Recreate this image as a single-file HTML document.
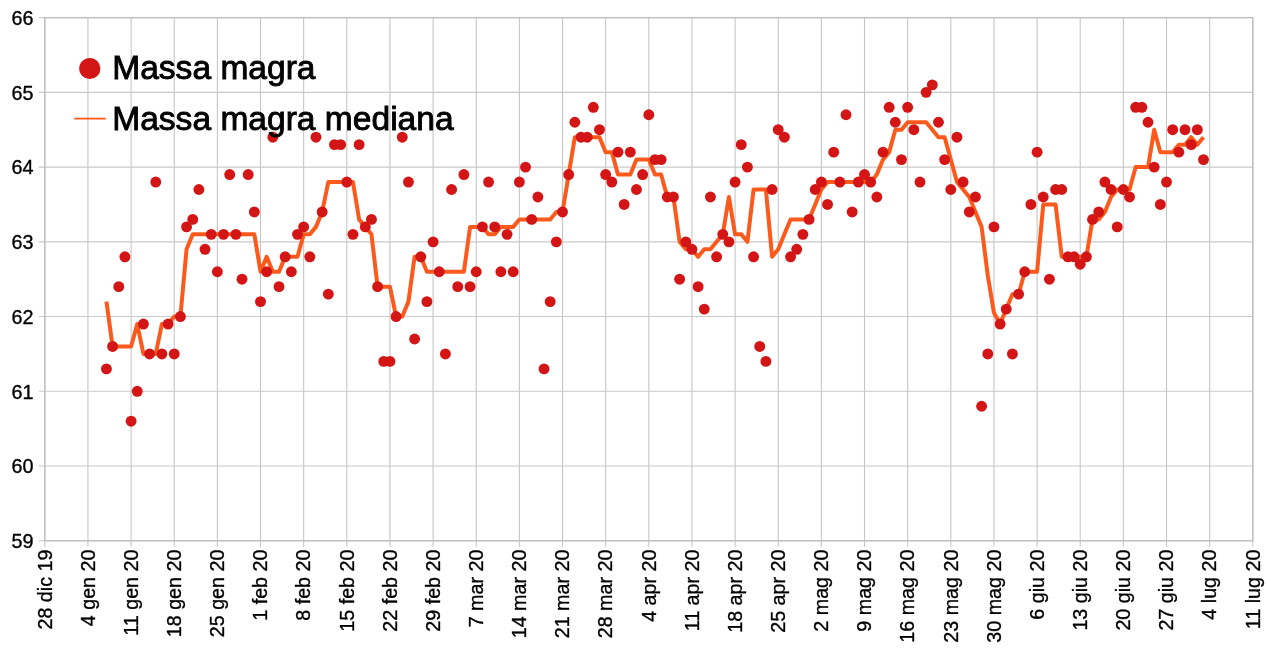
<!DOCTYPE html>
<html lang="it"><head><meta charset="utf-8"><title>Massa magra</title>
<style>html,body{margin:0;padding:0;background:#fff}svg{display:block}text{font-family:"Liberation Sans",Arial,Helvetica,sans-serif;fill:#000}</style></head><body>
<svg width="1269" height="655" viewBox="0 0 1269 655">
<rect width="1269" height="655" fill="#fff"/>
<path d="M44.80 17.60V546.80M87.94 17.60V546.80M131.09 17.60V546.80M174.23 17.60V546.80M217.37 17.60V546.80M260.51 17.60V546.80M303.66 17.60V546.80M346.80 17.60V546.80M389.94 17.60V546.80M433.09 17.60V546.80M476.23 17.60V546.80M519.37 17.60V546.80M562.51 17.60V546.80M605.66 17.60V546.80M648.80 17.60V546.80M691.94 17.60V546.80M735.09 17.60V546.80M778.23 17.60V546.80M821.37 17.60V546.80M864.51 17.60V546.80M907.66 17.60V546.80M950.80 17.60V546.80M993.94 17.60V546.80M1037.09 17.60V546.80M1080.23 17.60V546.80M1123.37 17.60V546.80M1166.51 17.60V546.80M1209.66 17.60V546.80M1252.80 17.60V546.80" fill="none" stroke="#c4c4c4" stroke-width="1.05"/>
<path d="M38.80 540.80H1252.80M38.80 466.06H1252.80M38.80 391.31H1252.80M38.80 316.57H1252.80M38.80 241.83H1252.80M38.80 167.09H1252.80M38.80 92.34H1252.80M38.80 17.60H1252.80" fill="none" stroke="#cacaca" stroke-width="1.1"/>
<rect x="44.80" y="17.60" width="1208.00" height="523.20" fill="none" stroke="#bebebe" stroke-width="1.3"/>
<text x="33.5" y="548.00" font-size="19.8" text-anchor="end" stroke="#000" stroke-width="0.35">59</text>
<text x="33.5" y="473.26" font-size="19.8" text-anchor="end" stroke="#000" stroke-width="0.35">60</text>
<text x="33.5" y="398.51" font-size="19.8" text-anchor="end" stroke="#000" stroke-width="0.35">61</text>
<text x="33.5" y="323.77" font-size="19.8" text-anchor="end" stroke="#000" stroke-width="0.35">62</text>
<text x="33.5" y="249.03" font-size="19.8" text-anchor="end" stroke="#000" stroke-width="0.35">63</text>
<text x="33.5" y="174.29" font-size="19.8" text-anchor="end" stroke="#000" stroke-width="0.35">64</text>
<text x="33.5" y="99.54" font-size="19.8" text-anchor="end" stroke="#000" stroke-width="0.35">65</text>
<text x="33.5" y="24.80" font-size="19.8" text-anchor="end" stroke="#000" stroke-width="0.35">66</text>
<text transform="translate(51.50 549.6) rotate(-90)" font-size="19.7" text-anchor="end" stroke="#000" stroke-width="0.35">28 dic 19</text>
<text transform="translate(94.64 549.6) rotate(-90)" font-size="19.7" text-anchor="end" stroke="#000" stroke-width="0.35">4 gen 20</text>
<text transform="translate(137.79 549.6) rotate(-90)" font-size="19.7" text-anchor="end" stroke="#000" stroke-width="0.35">11 gen 20</text>
<text transform="translate(180.93 549.6) rotate(-90)" font-size="19.7" text-anchor="end" stroke="#000" stroke-width="0.35">18 gen 20</text>
<text transform="translate(224.07 549.6) rotate(-90)" font-size="19.7" text-anchor="end" stroke="#000" stroke-width="0.35">25 gen 20</text>
<text transform="translate(267.21 549.6) rotate(-90)" font-size="19.7" text-anchor="end" stroke="#000" stroke-width="0.35">1 feb 20</text>
<text transform="translate(310.36 549.6) rotate(-90)" font-size="19.7" text-anchor="end" stroke="#000" stroke-width="0.35">8 feb 20</text>
<text transform="translate(353.50 549.6) rotate(-90)" font-size="19.7" text-anchor="end" stroke="#000" stroke-width="0.35">15 feb 20</text>
<text transform="translate(396.64 549.6) rotate(-90)" font-size="19.7" text-anchor="end" stroke="#000" stroke-width="0.35">22 feb 20</text>
<text transform="translate(439.79 549.6) rotate(-90)" font-size="19.7" text-anchor="end" stroke="#000" stroke-width="0.35">29 feb 20</text>
<text transform="translate(482.93 549.6) rotate(-90)" font-size="19.7" text-anchor="end" stroke="#000" stroke-width="0.35">7 mar 20</text>
<text transform="translate(526.07 549.6) rotate(-90)" font-size="19.7" text-anchor="end" stroke="#000" stroke-width="0.35">14 mar 20</text>
<text transform="translate(569.21 549.6) rotate(-90)" font-size="19.7" text-anchor="end" stroke="#000" stroke-width="0.35">21 mar 20</text>
<text transform="translate(612.36 549.6) rotate(-90)" font-size="19.7" text-anchor="end" stroke="#000" stroke-width="0.35">28 mar 20</text>
<text transform="translate(655.50 549.6) rotate(-90)" font-size="19.7" text-anchor="end" stroke="#000" stroke-width="0.35">4 apr 20</text>
<text transform="translate(698.64 549.6) rotate(-90)" font-size="19.7" text-anchor="end" stroke="#000" stroke-width="0.35">11 apr 20</text>
<text transform="translate(741.79 549.6) rotate(-90)" font-size="19.7" text-anchor="end" stroke="#000" stroke-width="0.35">18 apr 20</text>
<text transform="translate(784.93 549.6) rotate(-90)" font-size="19.7" text-anchor="end" stroke="#000" stroke-width="0.35">25 apr 20</text>
<text transform="translate(828.07 549.6) rotate(-90)" font-size="19.7" text-anchor="end" stroke="#000" stroke-width="0.35">2 mag 20</text>
<text transform="translate(871.21 549.6) rotate(-90)" font-size="19.7" text-anchor="end" stroke="#000" stroke-width="0.35">9 mag 20</text>
<text transform="translate(914.36 549.6) rotate(-90)" font-size="19.7" text-anchor="end" stroke="#000" stroke-width="0.35">16 mag 20</text>
<text transform="translate(957.50 549.6) rotate(-90)" font-size="19.7" text-anchor="end" stroke="#000" stroke-width="0.35">23 mag 20</text>
<text transform="translate(1000.64 549.6) rotate(-90)" font-size="19.7" text-anchor="end" stroke="#000" stroke-width="0.35">30 mag 20</text>
<text transform="translate(1043.79 549.6) rotate(-90)" font-size="19.7" text-anchor="end" stroke="#000" stroke-width="0.35">6 giu 20</text>
<text transform="translate(1086.93 549.6) rotate(-90)" font-size="19.7" text-anchor="end" stroke="#000" stroke-width="0.35">13 giu 20</text>
<text transform="translate(1130.07 549.6) rotate(-90)" font-size="19.7" text-anchor="end" stroke="#000" stroke-width="0.35">20 giu 20</text>
<text transform="translate(1173.21 549.6) rotate(-90)" font-size="19.7" text-anchor="end" stroke="#000" stroke-width="0.35">27 giu 20</text>
<text transform="translate(1216.36 549.6) rotate(-90)" font-size="19.7" text-anchor="end" stroke="#000" stroke-width="0.35">4 lug 20</text>
<text transform="translate(1259.50 549.6) rotate(-90)" font-size="19.7" text-anchor="end" stroke="#000" stroke-width="0.35">11 lug 20</text>
<polyline points="106.43,301.62 112.60,346.47 118.76,346.47 124.92,346.47 131.09,346.47 137.25,324.05 143.41,353.94 149.58,353.94 155.74,353.94 161.90,324.05 168.07,324.05 174.23,316.57 180.39,316.57 186.56,249.30 192.72,234.35 198.88,234.35 205.04,234.35 211.21,234.35 217.37,234.35 223.53,234.35 229.70,234.35 235.86,234.35 242.02,234.35 248.19,234.35 254.35,234.35 260.51,271.73 266.68,256.78 272.84,271.73 279.00,271.73 285.17,256.78 291.33,256.78 297.49,256.78 303.66,234.35 309.82,234.35 315.98,226.88 322.15,211.93 328.31,182.03 334.47,182.03 340.64,182.03 346.80,182.03 352.96,182.03 359.13,219.41 365.29,226.88 371.45,234.35 377.62,286.67 383.78,286.67 389.94,286.67 396.11,316.57 402.27,316.57 408.43,301.62 414.60,256.78 420.76,256.78 426.92,271.73 433.09,271.73 439.25,271.73 445.41,271.73 451.58,271.73 457.74,271.73 463.90,271.73 470.07,226.88 476.23,226.88 482.39,226.88 488.56,234.35 494.72,234.35 500.88,226.88 507.04,226.88 513.21,226.88 519.37,219.41 525.53,219.41 531.70,219.41 537.86,219.41 544.02,219.41 550.19,219.41 556.35,211.93 562.51,211.93 568.68,174.56 574.84,137.19 581.00,137.19 587.17,137.19 593.33,137.19 599.49,137.19 605.66,152.14 611.82,152.14 617.98,174.56 624.15,174.56 630.31,174.56 636.47,159.61 642.64,159.61 648.80,159.61 654.96,174.56 661.13,174.56 667.29,196.98 673.45,196.98 679.62,241.83 685.78,249.30 691.94,249.30 698.11,256.78 704.27,249.30 710.43,249.30 716.60,241.83 722.76,234.35 728.92,196.98 735.09,234.35 741.25,234.35 747.41,241.83 753.58,189.51 759.74,189.51 765.90,189.51 772.07,256.78 778.23,249.30 784.39,234.35 790.56,219.41 796.72,219.41 802.88,219.41 809.04,219.41 815.21,204.46 821.37,189.51 827.53,182.03 833.70,182.03 839.86,182.03 846.02,182.03 852.19,182.03 858.35,182.03 864.51,182.03 870.68,182.03 876.84,174.56 883.00,159.61 889.17,152.14 895.33,129.71 901.49,129.71 907.66,122.24 913.82,122.24 919.98,122.24 926.15,122.24 932.31,129.71 938.47,137.19 944.64,137.19 950.80,159.61 956.96,182.03 963.13,189.51 969.29,196.98 975.45,211.93 981.62,226.88 987.78,275.46 993.94,312.83 1000.11,324.05 1006.27,309.10 1012.43,294.15 1018.60,294.15 1024.76,271.73 1030.92,271.73 1037.09,271.73 1043.25,204.46 1049.41,204.46 1055.58,204.46 1061.74,256.78 1067.90,256.78 1074.07,256.78 1080.23,256.78 1086.39,256.78 1092.56,219.41 1098.72,219.41 1104.88,211.93 1111.04,196.98 1117.21,189.51 1123.37,189.51 1129.53,189.51 1135.70,167.09 1141.86,167.09 1148.02,167.09 1154.19,129.71 1160.35,152.14 1166.51,152.14 1172.68,152.14 1178.84,144.66 1185.00,144.66 1191.17,137.19 1197.33,144.66 1203.49,137.19" fill="none" stroke="#fb5a1c" stroke-width="4.0" stroke-linejoin="round" stroke-linecap="butt"/>
<circle cx="106.43" cy="368.89" r="5.45" fill="#d41515"/>
<circle cx="112.60" cy="346.47" r="5.45" fill="#d41515"/>
<circle cx="118.76" cy="286.67" r="5.45" fill="#d41515"/>
<circle cx="124.92" cy="256.78" r="5.45" fill="#d41515"/>
<circle cx="131.09" cy="421.21" r="5.45" fill="#d41515"/>
<circle cx="137.25" cy="391.31" r="5.45" fill="#d41515"/>
<circle cx="143.41" cy="324.05" r="5.45" fill="#d41515"/>
<circle cx="149.58" cy="353.94" r="5.45" fill="#d41515"/>
<circle cx="155.74" cy="182.03" r="5.45" fill="#d41515"/>
<circle cx="161.90" cy="353.94" r="5.45" fill="#d41515"/>
<circle cx="168.07" cy="324.05" r="5.45" fill="#d41515"/>
<circle cx="174.23" cy="353.94" r="5.45" fill="#d41515"/>
<circle cx="180.39" cy="316.57" r="5.45" fill="#d41515"/>
<circle cx="186.56" cy="226.88" r="5.45" fill="#d41515"/>
<circle cx="192.72" cy="219.41" r="5.45" fill="#d41515"/>
<circle cx="198.88" cy="189.51" r="5.45" fill="#d41515"/>
<circle cx="205.04" cy="249.30" r="5.45" fill="#d41515"/>
<circle cx="211.21" cy="234.35" r="5.45" fill="#d41515"/>
<circle cx="217.37" cy="271.73" r="5.45" fill="#d41515"/>
<circle cx="223.53" cy="234.35" r="5.45" fill="#d41515"/>
<circle cx="229.70" cy="174.56" r="5.45" fill="#d41515"/>
<circle cx="235.86" cy="234.35" r="5.45" fill="#d41515"/>
<circle cx="242.02" cy="279.20" r="5.45" fill="#d41515"/>
<circle cx="248.19" cy="174.56" r="5.45" fill="#d41515"/>
<circle cx="254.35" cy="211.93" r="5.45" fill="#d41515"/>
<circle cx="260.51" cy="301.62" r="5.45" fill="#d41515"/>
<circle cx="266.68" cy="271.73" r="5.45" fill="#d41515"/>
<circle cx="272.84" cy="137.19" r="5.45" fill="#d41515"/>
<circle cx="279.00" cy="286.67" r="5.45" fill="#d41515"/>
<circle cx="285.17" cy="256.78" r="5.45" fill="#d41515"/>
<circle cx="291.33" cy="271.73" r="5.45" fill="#d41515"/>
<circle cx="297.49" cy="234.35" r="5.45" fill="#d41515"/>
<circle cx="303.66" cy="226.88" r="5.45" fill="#d41515"/>
<circle cx="309.82" cy="256.78" r="5.45" fill="#d41515"/>
<circle cx="315.98" cy="137.19" r="5.45" fill="#d41515"/>
<circle cx="322.15" cy="211.93" r="5.45" fill="#d41515"/>
<circle cx="328.31" cy="294.15" r="5.45" fill="#d41515"/>
<circle cx="334.47" cy="144.66" r="5.45" fill="#d41515"/>
<circle cx="340.64" cy="144.66" r="5.45" fill="#d41515"/>
<circle cx="346.80" cy="182.03" r="5.45" fill="#d41515"/>
<circle cx="352.96" cy="234.35" r="5.45" fill="#d41515"/>
<circle cx="359.13" cy="144.66" r="5.45" fill="#d41515"/>
<circle cx="365.29" cy="226.88" r="5.45" fill="#d41515"/>
<circle cx="371.45" cy="219.41" r="5.45" fill="#d41515"/>
<circle cx="377.62" cy="286.67" r="5.45" fill="#d41515"/>
<circle cx="383.78" cy="361.42" r="5.45" fill="#d41515"/>
<circle cx="389.94" cy="361.42" r="5.45" fill="#d41515"/>
<circle cx="396.11" cy="316.57" r="5.45" fill="#d41515"/>
<circle cx="402.27" cy="137.19" r="5.45" fill="#d41515"/>
<circle cx="408.43" cy="182.03" r="5.45" fill="#d41515"/>
<circle cx="414.60" cy="338.99" r="5.45" fill="#d41515"/>
<circle cx="420.76" cy="256.78" r="5.45" fill="#d41515"/>
<circle cx="426.92" cy="301.62" r="5.45" fill="#d41515"/>
<circle cx="433.09" cy="241.83" r="5.45" fill="#d41515"/>
<circle cx="439.25" cy="271.73" r="5.45" fill="#d41515"/>
<circle cx="445.41" cy="353.94" r="5.45" fill="#d41515"/>
<circle cx="451.58" cy="189.51" r="5.45" fill="#d41515"/>
<circle cx="457.74" cy="286.67" r="5.45" fill="#d41515"/>
<circle cx="463.90" cy="174.56" r="5.45" fill="#d41515"/>
<circle cx="470.07" cy="286.67" r="5.45" fill="#d41515"/>
<circle cx="476.23" cy="271.73" r="5.45" fill="#d41515"/>
<circle cx="482.39" cy="226.88" r="5.45" fill="#d41515"/>
<circle cx="488.56" cy="182.03" r="5.45" fill="#d41515"/>
<circle cx="494.72" cy="226.88" r="5.45" fill="#d41515"/>
<circle cx="500.88" cy="271.73" r="5.45" fill="#d41515"/>
<circle cx="507.04" cy="234.35" r="5.45" fill="#d41515"/>
<circle cx="513.21" cy="271.73" r="5.45" fill="#d41515"/>
<circle cx="519.37" cy="182.03" r="5.45" fill="#d41515"/>
<circle cx="525.53" cy="167.09" r="5.45" fill="#d41515"/>
<circle cx="531.70" cy="219.41" r="5.45" fill="#d41515"/>
<circle cx="537.86" cy="196.98" r="5.45" fill="#d41515"/>
<circle cx="544.02" cy="368.89" r="5.45" fill="#d41515"/>
<circle cx="550.19" cy="301.62" r="5.45" fill="#d41515"/>
<circle cx="556.35" cy="241.83" r="5.45" fill="#d41515"/>
<circle cx="562.51" cy="211.93" r="5.45" fill="#d41515"/>
<circle cx="568.68" cy="174.56" r="5.45" fill="#d41515"/>
<circle cx="574.84" cy="122.24" r="5.45" fill="#d41515"/>
<circle cx="581.00" cy="137.19" r="5.45" fill="#d41515"/>
<circle cx="587.17" cy="137.19" r="5.45" fill="#d41515"/>
<circle cx="593.33" cy="107.29" r="5.45" fill="#d41515"/>
<circle cx="599.49" cy="129.71" r="5.45" fill="#d41515"/>
<circle cx="605.66" cy="174.56" r="5.45" fill="#d41515"/>
<circle cx="611.82" cy="182.03" r="5.45" fill="#d41515"/>
<circle cx="617.98" cy="152.14" r="5.45" fill="#d41515"/>
<circle cx="624.15" cy="204.46" r="5.45" fill="#d41515"/>
<circle cx="630.31" cy="152.14" r="5.45" fill="#d41515"/>
<circle cx="636.47" cy="189.51" r="5.45" fill="#d41515"/>
<circle cx="642.64" cy="174.56" r="5.45" fill="#d41515"/>
<circle cx="648.80" cy="114.77" r="5.45" fill="#d41515"/>
<circle cx="654.96" cy="159.61" r="5.45" fill="#d41515"/>
<circle cx="661.13" cy="159.61" r="5.45" fill="#d41515"/>
<circle cx="667.29" cy="196.98" r="5.45" fill="#d41515"/>
<circle cx="673.45" cy="196.98" r="5.45" fill="#d41515"/>
<circle cx="679.62" cy="279.20" r="5.45" fill="#d41515"/>
<circle cx="685.78" cy="241.83" r="5.45" fill="#d41515"/>
<circle cx="691.94" cy="249.30" r="5.45" fill="#d41515"/>
<circle cx="698.11" cy="286.67" r="5.45" fill="#d41515"/>
<circle cx="704.27" cy="309.10" r="5.45" fill="#d41515"/>
<circle cx="710.43" cy="196.98" r="5.45" fill="#d41515"/>
<circle cx="716.60" cy="256.78" r="5.45" fill="#d41515"/>
<circle cx="722.76" cy="234.35" r="5.45" fill="#d41515"/>
<circle cx="728.92" cy="241.83" r="5.45" fill="#d41515"/>
<circle cx="735.09" cy="182.03" r="5.45" fill="#d41515"/>
<circle cx="741.25" cy="144.66" r="5.45" fill="#d41515"/>
<circle cx="747.41" cy="167.09" r="5.45" fill="#d41515"/>
<circle cx="753.58" cy="256.78" r="5.45" fill="#d41515"/>
<circle cx="759.74" cy="346.47" r="5.45" fill="#d41515"/>
<circle cx="765.90" cy="361.42" r="5.45" fill="#d41515"/>
<circle cx="772.07" cy="189.51" r="5.45" fill="#d41515"/>
<circle cx="778.23" cy="129.71" r="5.45" fill="#d41515"/>
<circle cx="784.39" cy="137.19" r="5.45" fill="#d41515"/>
<circle cx="790.56" cy="256.78" r="5.45" fill="#d41515"/>
<circle cx="796.72" cy="249.30" r="5.45" fill="#d41515"/>
<circle cx="802.88" cy="234.35" r="5.45" fill="#d41515"/>
<circle cx="809.04" cy="219.41" r="5.45" fill="#d41515"/>
<circle cx="815.21" cy="189.51" r="5.45" fill="#d41515"/>
<circle cx="821.37" cy="182.03" r="5.45" fill="#d41515"/>
<circle cx="827.53" cy="204.46" r="5.45" fill="#d41515"/>
<circle cx="833.70" cy="152.14" r="5.45" fill="#d41515"/>
<circle cx="839.86" cy="182.03" r="5.45" fill="#d41515"/>
<circle cx="846.02" cy="114.77" r="5.45" fill="#d41515"/>
<circle cx="852.19" cy="211.93" r="5.45" fill="#d41515"/>
<circle cx="858.35" cy="182.03" r="5.45" fill="#d41515"/>
<circle cx="864.51" cy="174.56" r="5.45" fill="#d41515"/>
<circle cx="870.68" cy="182.03" r="5.45" fill="#d41515"/>
<circle cx="876.84" cy="196.98" r="5.45" fill="#d41515"/>
<circle cx="883.00" cy="152.14" r="5.45" fill="#d41515"/>
<circle cx="889.17" cy="107.29" r="5.45" fill="#d41515"/>
<circle cx="895.33" cy="122.24" r="5.45" fill="#d41515"/>
<circle cx="901.49" cy="159.61" r="5.45" fill="#d41515"/>
<circle cx="907.66" cy="107.29" r="5.45" fill="#d41515"/>
<circle cx="913.82" cy="129.71" r="5.45" fill="#d41515"/>
<circle cx="919.98" cy="182.03" r="5.45" fill="#d41515"/>
<circle cx="926.15" cy="92.34" r="5.45" fill="#d41515"/>
<circle cx="932.31" cy="84.87" r="5.45" fill="#d41515"/>
<circle cx="938.47" cy="122.24" r="5.45" fill="#d41515"/>
<circle cx="944.64" cy="159.61" r="5.45" fill="#d41515"/>
<circle cx="950.80" cy="189.51" r="5.45" fill="#d41515"/>
<circle cx="956.96" cy="137.19" r="5.45" fill="#d41515"/>
<circle cx="963.13" cy="182.03" r="5.45" fill="#d41515"/>
<circle cx="969.29" cy="211.93" r="5.45" fill="#d41515"/>
<circle cx="975.45" cy="196.98" r="5.45" fill="#d41515"/>
<circle cx="981.62" cy="406.26" r="5.45" fill="#d41515"/>
<circle cx="987.78" cy="353.94" r="5.45" fill="#d41515"/>
<circle cx="993.94" cy="226.88" r="5.45" fill="#d41515"/>
<circle cx="1000.11" cy="324.05" r="5.45" fill="#d41515"/>
<circle cx="1006.27" cy="309.10" r="5.45" fill="#d41515"/>
<circle cx="1012.43" cy="353.94" r="5.45" fill="#d41515"/>
<circle cx="1018.60" cy="294.15" r="5.45" fill="#d41515"/>
<circle cx="1024.76" cy="271.73" r="5.45" fill="#d41515"/>
<circle cx="1030.92" cy="204.46" r="5.45" fill="#d41515"/>
<circle cx="1037.09" cy="152.14" r="5.45" fill="#d41515"/>
<circle cx="1043.25" cy="196.98" r="5.45" fill="#d41515"/>
<circle cx="1049.41" cy="279.20" r="5.45" fill="#d41515"/>
<circle cx="1055.58" cy="189.51" r="5.45" fill="#d41515"/>
<circle cx="1061.74" cy="189.51" r="5.45" fill="#d41515"/>
<circle cx="1067.90" cy="256.78" r="5.45" fill="#d41515"/>
<circle cx="1074.07" cy="256.78" r="5.45" fill="#d41515"/>
<circle cx="1080.23" cy="264.25" r="5.45" fill="#d41515"/>
<circle cx="1086.39" cy="256.78" r="5.45" fill="#d41515"/>
<circle cx="1092.56" cy="219.41" r="5.45" fill="#d41515"/>
<circle cx="1098.72" cy="211.93" r="5.45" fill="#d41515"/>
<circle cx="1104.88" cy="182.03" r="5.45" fill="#d41515"/>
<circle cx="1111.04" cy="189.51" r="5.45" fill="#d41515"/>
<circle cx="1117.21" cy="226.88" r="5.45" fill="#d41515"/>
<circle cx="1123.37" cy="189.51" r="5.45" fill="#d41515"/>
<circle cx="1129.53" cy="196.98" r="5.45" fill="#d41515"/>
<circle cx="1135.70" cy="107.29" r="5.45" fill="#d41515"/>
<circle cx="1141.86" cy="107.29" r="5.45" fill="#d41515"/>
<circle cx="1148.02" cy="122.24" r="5.45" fill="#d41515"/>
<circle cx="1154.19" cy="167.09" r="5.45" fill="#d41515"/>
<circle cx="1160.35" cy="204.46" r="5.45" fill="#d41515"/>
<circle cx="1166.51" cy="182.03" r="5.45" fill="#d41515"/>
<circle cx="1172.68" cy="129.71" r="5.45" fill="#d41515"/>
<circle cx="1178.84" cy="152.14" r="5.45" fill="#d41515"/>
<circle cx="1185.00" cy="129.71" r="5.45" fill="#d41515"/>
<circle cx="1191.17" cy="144.66" r="5.45" fill="#d41515"/>
<circle cx="1197.33" cy="129.71" r="5.45" fill="#d41515"/>
<circle cx="1203.49" cy="159.61" r="5.45" fill="#d41515"/>
<circle cx="89.8" cy="68.5" r="10.6" fill="#d41515"/>
<line x1="74.2" y1="118.6" x2="105.7" y2="118.6" stroke="#fb5a1c" stroke-width="1.8"/>
<text transform="translate(112.2 79.2) scale(1.03 1)" font-size="32.6" stroke="#000" stroke-width="0.85">Massa magra</text>
<text transform="translate(112.2 130.4) scale(1.03 1)" font-size="32.6" stroke="#000" stroke-width="0.85">Massa magra mediana</text>
</svg></body></html>
